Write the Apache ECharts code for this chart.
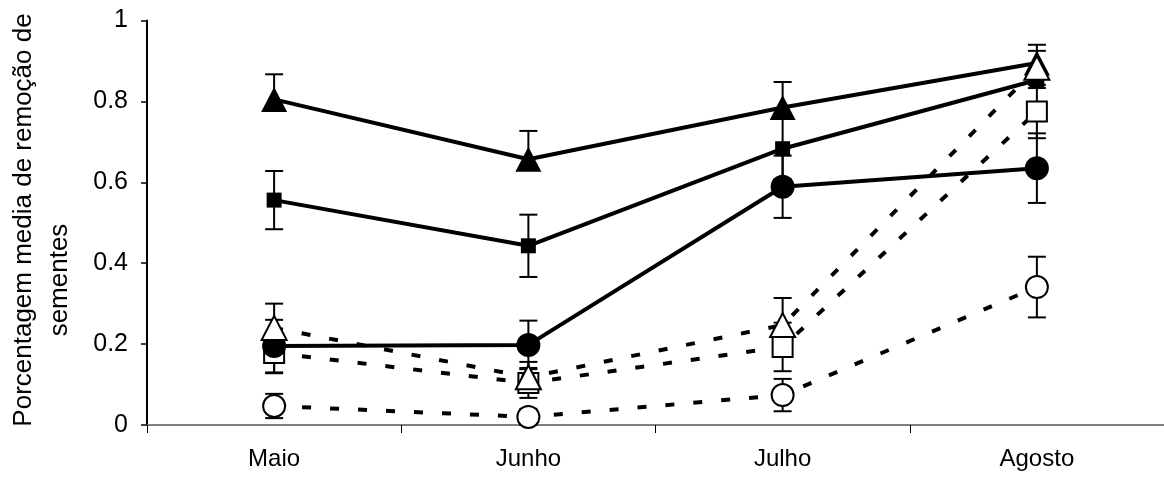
<!DOCTYPE html>
<html><head><meta charset="utf-8">
<script src="https://cdn.jsdelivr.net/npm/echarts@6/dist/echarts.min.js"></script>
<style>html,body{margin:0;padding:0;background:#fff}#c{width:1164px;height:479px}</style>
</head><body><div id="c"></div>
<script>
const months = ['Maio', 'Junho', 'Julho', 'Agosto'];
const yTicks = ['0', '0.2', '0.4', '0.6', '0.8', '1'];
const titleLine1 = 'Porcentagem media de remoção de';
const titleLine2 = 'sementes';

// solid series
const triFilled = [0.805, 0.657, 0.785, 0.895];
const triFilledErrUp = [0.062, 0.070, 0.063, 0.045];
const triFilledErrDown = [0, 0, 0, 0];
const sqFilled = [0.556, 0.443, 0.683, 0.853];
const sqFilledErr = [0.072, 0.077, 0.075, 0.020];
const cirFilled = [0.195, 0.198, 0.589, 0.635];
const cirFilledErr = [0.065, 0.060, 0.077, 0.086];
// dashed series
const sqOpen = [0.178, 0.104, 0.193, 0.775];
const sqOpenErr = [0.050, 0.037, 0.060, 0.066];
const triOpen = [0.240, 0.118, 0.247, 0.883];
const triOpenErrUp = [0.060, 0.038, 0.067, 0.042];
const triOpenErrDown = [0, 0, 0, 0];
const cirOpen = [0.047, 0.020, 0.074, 0.341];
const cirOpenErr = [0.030, 0.020, 0.040, 0.075];

const FONT = '"Liberation Sans", Arial, sans-serif';

function errSeries(vals, up, down) {
  return {
    type: 'custom', silent: true, z: 1, animation: false,
    data: vals.map((v, i) => [i, v - down[i], v + up[i], up[i] > 0 ? 1 : 0, down[i] > 0 ? 1 : 0]),
    encode: { x: 0, y: [1, 2] },
    renderItem: function (params, api) {
      const x = api.value(0);
      const lo = api.coord([x, api.value(1)]);
      const hi = api.coord([x, api.value(2)]);
      const w = 9;
      const st = { stroke: '#000', lineWidth: 2 };
      const ch = [{ type: 'line', shape: { x1: lo[0], y1: lo[1], x2: hi[0], y2: hi[1] }, style: st }];
      if (api.value(3)) ch.push({ type: 'line', shape: { x1: hi[0] - w, y1: hi[1], x2: hi[0] + w, y2: hi[1] }, style: st });
      if (api.value(4)) ch.push({ type: 'line', shape: { x1: lo[0] - w, y1: lo[1], x2: lo[0] + w, y2: lo[1] }, style: st });
      return { type: 'group', children: ch };
    }
  };
}

function lineSeries(vals, symbol, size, open, dashed, z) {
  return {
    type: 'line', data: vals, symbol: symbol, symbolSize: size, showAllSymbol: true, z: z,
    itemStyle: open ? { color: '#fff', borderColor: '#000', borderWidth: 2 } : { color: '#000', borderWidth: 0 },
    lineStyle: { color: '#000', width: 4, type: dashed ? [9, 19] : 'solid', cap: 'butt' },
    emphasis: { disabled: true }
  };
}

const chart = echarts.init(document.getElementById('c'), null, { renderer: 'canvas' });
chart.setOption({
  animation: false,
  backgroundColor: '#fff',
  grid: { left: 147, top: 20.5, width: 1024, height: 404.5, containLabel: false },
  xAxis: {
    type: 'category', data: months, boundaryGap: true,
    axisLine: { lineStyle: { color: '#808080', width: 2 } },
    axisTick: { show: true, length: 8, lineStyle: { color: '#000', width: 1 } },
    axisLabel: { color: '#000', fontSize: 24, fontFamily: FONT, margin: 22 },
    splitLine: { show: false }
  },
  yAxis: {
    type: 'value', min: 0, max: 1, interval: 0.2,
    axisLine: { show: true, lineStyle: { color: '#000', width: 2 } },
    axisTick: { show: true, length: 6, lineStyle: { color: '#000', width: 1.5 } },
    axisLabel: { color: '#000', fontSize: 25, fontFamily: FONT, margin: 19,
      formatter: v => yTicks[Math.round(v * 5)] },
    splitLine: { show: false }
  },
  graphic: [
    { type: 'text', x: 24, y: 220, rotation: Math.PI / 2,
      style: { text: titleLine1, fontSize: 26, fontFamily: FONT, fill: '#000', align: 'center', verticalAlign: 'middle', textAlign: 'center', textVerticalAlign: 'middle' } },
    { type: 'text', x: 60, y: 280, rotation: Math.PI / 2,
      style: { text: titleLine2, fontSize: 26, fontFamily: FONT, fill: '#000', align: 'center', verticalAlign: 'middle', textAlign: 'center', textVerticalAlign: 'middle' } }
  ],
  series: [
    errSeries(triFilled, triFilledErrUp, triFilledErrDown),
    errSeries(sqFilled, sqFilledErr, sqFilledErr),
    errSeries(cirFilled, cirFilledErr, cirFilledErr),
    errSeries(sqOpen, sqOpenErr, sqOpenErr),
    errSeries(triOpen, triOpenErrUp, triOpenErrDown),
    errSeries(cirOpen, cirOpenErr, cirOpenErr),
    lineSeries(sqOpen, 'rect', [20, 20], true, true, 2),
    lineSeries(cirOpen, 'circle', 22, true, true, 2),
    lineSeries(cirFilled, 'circle', 24, false, false, 3),
    lineSeries(sqFilled, 'rect', [15, 15], false, false, 3),
    lineSeries(triFilled, 'triangle', [26, 25], false, false, 3),
    lineSeries(triOpen, 'triangle', [25, 24], true, true, 4)
  ]
});
</script>
</body></html>
